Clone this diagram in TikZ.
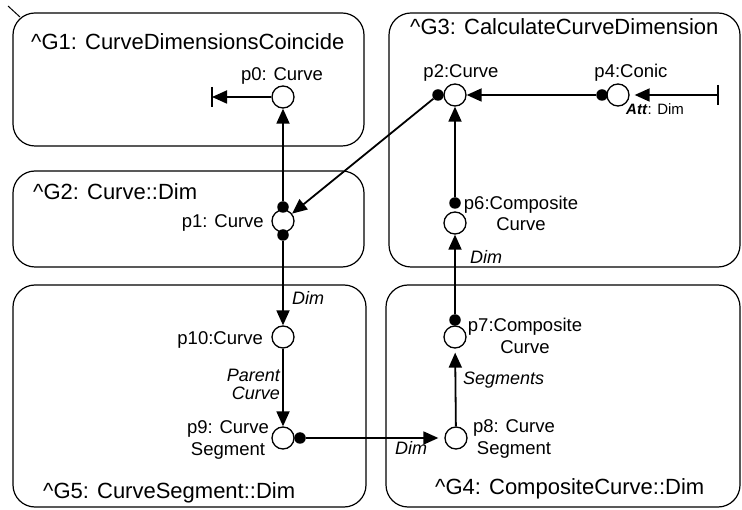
\documentclass[tikz,border=0pt]{standalone}
\usepackage{fontspec}
\setmainfont{Liberation Sans}
\usetikzlibrary{arrows.meta,positioning}
\tikzset{
  grp/.style={draw, line width=1.2pt, rounded corners=22pt},
  ttl/.style={anchor=base west, inner sep=0pt, font=\fontsize{22}{26}\selectfont},
  place/.style={circle, draw, fill=white, line width=1.3pt, minimum size=22pt, inner sep=0pt},
  dot/.style={circle, fill=black, minimum size=11.5pt, inner sep=0pt},
  lbl/.style={inner sep=0pt, align=center, font=\fontsize{18.5}{21.5}\selectfont},
  rel/.style={inner sep=0pt, font=\itshape\fontsize{18}{18}\selectfont},
  link/.style={line width=1.8pt, -{Triangle[length=15pt,width=13pt]}},
  stopbar/.style={line width=2.2pt},
}
\begin{document}
\begin{tikzpicture}[x=1pt,y=-1pt]
\useasboundingbox (0,0) rectangle (742,510);
% groups
\draw[grp] (13,13) rectangle (364,146);
\draw[grp] (13,171) rectangle (364,267);
\draw[grp] (389,13) rectangle (740,267);
\draw[grp] (386,285) rectangle (740,507);
\draw[grp] (13,285) rectangle (366,507);
\draw[line width=1pt] (8,6) -- (20,17);
\node[ttl] (t1) at (31,50) {\textasciicircum G1: CurveDimensionsCoincide};
\node[ttl] (t2) at (33,200) {\textasciicircum G2: Curve::Dim};
\node[ttl] (t3) at (410,35) {\textasciicircum G3: CalculateCurveDimension};
\node[ttl] (t4) at (435,494) {\textasciicircum G4: CompositeCurve::Dim};
\node[ttl] (t5) at (43,498) {\textasciicircum G5: CurveSegment::Dim};
% places
\node[place] (p0) at (283,97) {};
\node[place] (p1) at (283,221) {};
\node[place] (p2) at (455,95) {};
\node[place] (p4) at (618,95) {};
\node[place] (p6) at (455,223) {};
\node[place] (p7) at (455,337) {};
\node[place] (p8) at (456,438) {};
\node[place] (p10) at (283,337) {};
\node[place] (p9) at (283,438) {};
% dots
\node[dot] (d1a) at ([yshift=14pt]p1.center) {};
\node[dot] (d1b) at ([yshift=-14pt]p1.center) {};
\node[dot] (d2) at ([xshift=-17pt]p2.center) {};
\node[dot] (d4) at ([xshift=-16pt]p4.center) {};
\node[dot] (d6) at ([yshift=20pt]p6.center) {};
\node[dot] (d7) at ([yshift=17pt]p7.center) {};
\node[dot] (d9) at ([xshift=17pt]p9.center) {};
\coordinate (e0) at (212,97);
\coordinate (e4) at (718,95);
% links
\draw[link] (d1a) -- (p0);
\draw[link] (p0) -- (e0);
\draw[stopbar] ([yshift=10pt]e0) -- ([yshift=-10pt]e0);
\draw[link] (d2) -- (p1);
\draw[link] (d4) -- (p2);
\draw[link, shorten >=5pt] (e4) -- (p4);
\draw[stopbar] ([yshift=10pt]e4) -- ([yshift=-10pt]e4);
\draw[link] (d6) -- (p2);
\draw[link] (d7) -- (p6);
\draw[link, shorten >=4pt] (p8) -- (p7);
\draw[link, shorten >=6pt] (d9) -- (p8);
\draw[link] (d1b) -- (p10);
\draw[link] (p10) -- (p9);
% labels
\node[lbl, anchor=base] (l0) at (282,81) {p0: Curve};
\node[lbl, anchor=base east] (l1) at (264,228) {p1: Curve};
\node[lbl, anchor=base] (l2) at (461,78) {p2:Curve};
\node[lbl, anchor=base] (l4) at (631,78) {p4:Conic};
\node[inner sep=0pt, anchor=base west, font=\fontsize{15}{17}\selectfont] (a4) at (626,115) {\textbf{\textit{Att}}: Dim};
\node[lbl] (l6) at (521,213.5) {p6:Composite\\Curve};
\node[lbl] (l7) at (525,336) {p7:Composite\\Curve};
\node[lbl] (l8) at (514,439) {p8: Curve\\Segment};
\node[lbl] (l9) at (228,440) {p9: Curve\\Segment};
\node[lbl, anchor=base east] (l10) at (263,345) {p10:Curve};
\node[rel, anchor=base west] (r1) at (292,305) {Dim};
\node[rel, align=right, anchor=east] (r2) at (280,384.5) {Parent\\Curve};
\node[rel, anchor=base west] (r3) at (395,455) {Dim};
\node[rel, anchor=base west] (r4) at (470,264) {Dim};
\node[rel, anchor=base west] (r5) at (463,385) {Segments};
\end{tikzpicture}
\end{document}
